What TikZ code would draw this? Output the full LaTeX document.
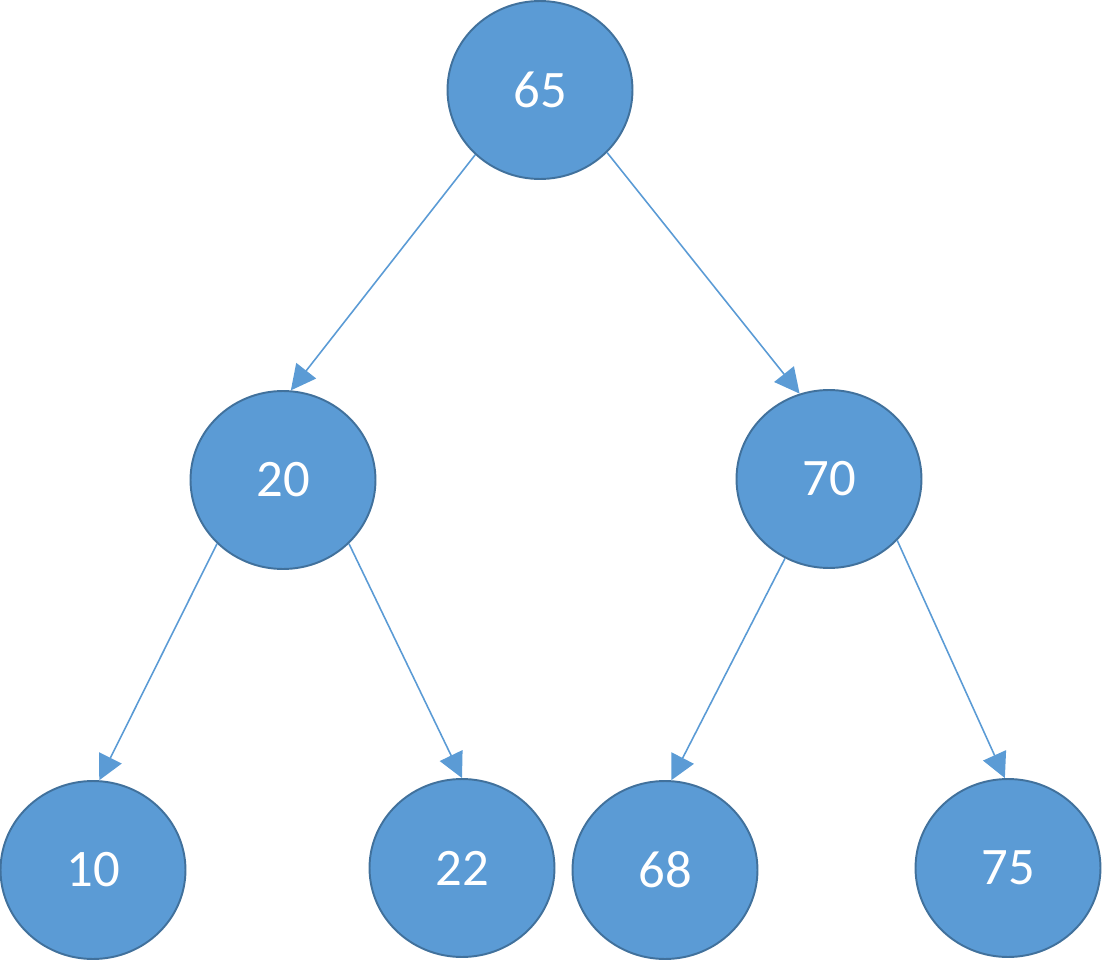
\documentclass[tikz,border=0pt]{standalone}
\usepackage{fontspec}
\setmainfont{Carlito}
\usetikzlibrary{shapes.geometric, arrows.meta}

\definecolor{nodefill}{HTML}{5B9BD5}
\definecolor{nodeline}{HTML}{41719C}

\begin{document}
\begin{tikzpicture}[x=0.02cm, y=-0.02cm,
	treenode/.style={ellipse, draw=nodeline, line width=1.1pt, fill=nodefill,
		minimum width=3.7cm, minimum height=3.56cm, inner sep=0pt,
		text=white, font=\fontsize{30}{36}\selectfont},
	link/.style={draw=nodefill, line width=0.9pt, -{Triangle[length=0.5cm, width=0.5cm]}}]
	
	\useasboundingbox (0,0) rectangle (1103,960);
	
	% levels
	\node[treenode] (n65) at (540,90) {65};
	\node[treenode] (n20) at (283,480) {20};
	\node[treenode] (n70) at (829,479) {70};
	\node[treenode] (n10) at (93,870) {10};
	\node[treenode] (n22) at (462,868) {22};
	\node[treenode] (n68) at (665,870) {68};
	\node[treenode] (n75) at (1008,868) {75};
	
	\draw[link] (n65.-135) -- (n20.85);
	\draw[link] (n65.-43) -- (n70.109);
	\draw[link] (n20.-136) -- (n10.86);
	\draw[link] (n20.-44) -- (n22.90);
	\draw[link] (n70.-119) -- (n68.86);
	\draw[link] (n70.-42) -- (n75.92);
	
\end{tikzpicture}
\end{document}
